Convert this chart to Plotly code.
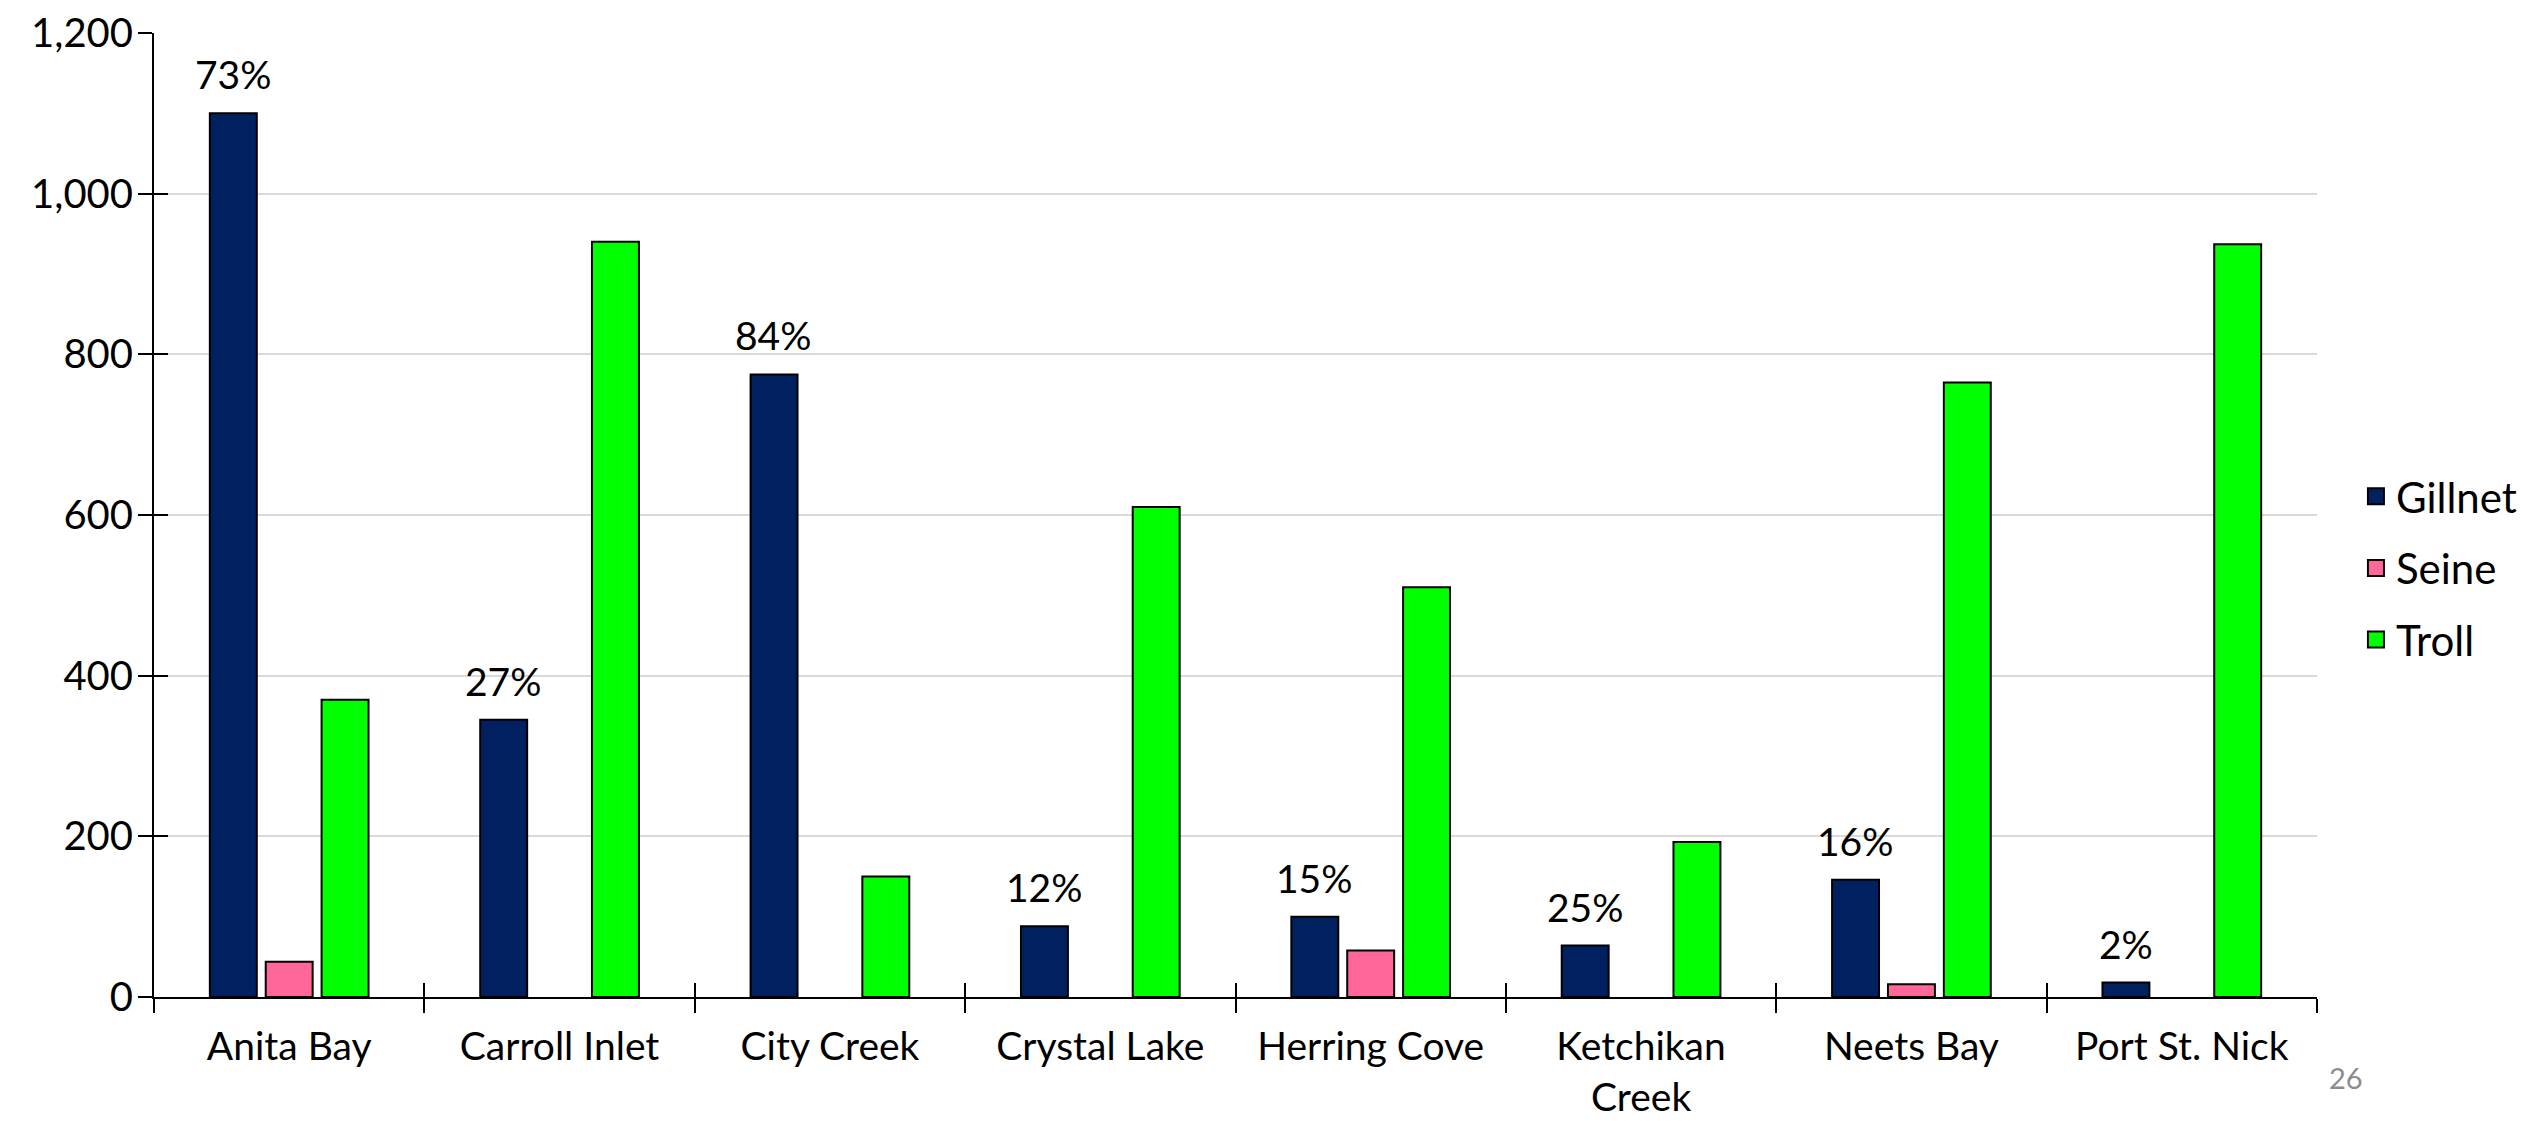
import plotly.graph_objects as go

categories = ["Anita Bay", "Carroll Inlet", "City Creek", "Crystal Lake",
              "Herring Cove", "Ketchikan<br>Creek", "Neets Bay", "Port St. Nick"]
gillnet = [1100, 345, 775, 88, 100, 64, 146, 18]
seine = [44, 0, 0, 0, 58, 0, 16, 0]
troll = [370, 940, 150, 610, 510, 193, 765, 937]
gillnet_pct = ["73%", "27%", "84%", "12%", "15%", "25%", "16%", "2%"]
y_ticks = [0, 200, 400, 600, 800, 1000, 1200]

FONT = "Lato, Calibri, sans-serif"
series = [("Gillnet", gillnet, "#002060"), ("Seine", seine, "#FF6699"), ("Troll", troll, "#00FF00")]

fig = go.Figure()
for name, vals, col in series:
    fig.add_trace(go.Bar(
        x=categories, y=[v if v else None for v in vals], name=name,
        marker=dict(color=col, line=dict(color="#000000", width=2)),
        showlegend=False,
    ))
    fig.add_trace(go.Scatter(
        x=[None], y=[None], mode="markers", name=name, legendgroup=name,
        marker=dict(symbol="square", size=26, color=col, line=dict(color="#000000", width=2)),
        showlegend=True,
    ))

# invisible trace on overlay axes so they render
fig.add_trace(go.Scatter(x=categories, y=[None]*len(categories), xaxis="x2", yaxis="y2",
                         showlegend=False, hoverinfo="skip"))

for cat, v, t in zip(categories, gillnet, gillnet_pct):
    fig.add_annotation(x=cat, y=v, text=t, showarrow=False, yanchor="bottom",
                       xshift=-56, yshift=14, font=dict(family=FONT, size=39, color="#000000"))

fig.add_annotation(xref="paper", yref="paper", x=1.0135, y=-0.083, text="26",
                   showarrow=False, xanchor="center", yanchor="middle",
                   font=dict(family=FONT, size=29, color="#8c8c8c"))

fig.update_layout(
    width=2526, height=1113,
    paper_bgcolor="white", plot_bgcolor="white",
    margin=dict(l=146, r=217, t=25, b=124, autoexpand=False),
    barmode="group", bargap=0.38, bargroupgap=0.16,
    font=dict(family=FONT, size=40, color="#000000"),
    legend=dict(x=1.018, y=0.445, xanchor="left", yanchor="middle",
                font=dict(family=FONT, size=42), tracegroupgap=14, itemsizing="trace",
                traceorder="grouped", bgcolor="rgba(0,0,0,0)"),
    xaxis=dict(type="category", showline=True, linecolor="#000000", linewidth=2,
               ticks="outside", ticklen=14, tickwidth=2, tickcolor="#000000",
               tickson="boundaries", showgrid=False, tickfont=dict(size=39),
               range=[-0.5, 7.5], automargin=False, ticklabelstandoff=14,
               ticklabeloverflow="allow"),
    yaxis=dict(range=[0, 1200], tickvals=y_ticks, tickformat=",", showline=True,
               linecolor="#000000", linewidth=2, ticks="outside", ticklen=14,
               tickwidth=2, tickcolor="#000000", showgrid=True, gridcolor="#d9d9d9",
               gridwidth=2, zeroline=False, tickfont=dict(size=40), automargin=False,
               ticklabelstandoff=-3, ticklabeloverflow="allow"),
    xaxis2=dict(type="category", overlaying="x", matches="x", ticks="inside", ticklen=14,
                tickwidth=2, tickcolor="#000000", tickson="boundaries", showticklabels=False,
                showgrid=False, showline=False, automargin=False),
    yaxis2=dict(overlaying="y", matches="y", range=[0, 1200], tickvals=y_ticks, ticks="inside",
                ticklen=14, tickwidth=2, tickcolor="#000000", showticklabels=False,
                showgrid=False, showline=False, zeroline=False, automargin=False),
)

fig.write_html("out.html")
